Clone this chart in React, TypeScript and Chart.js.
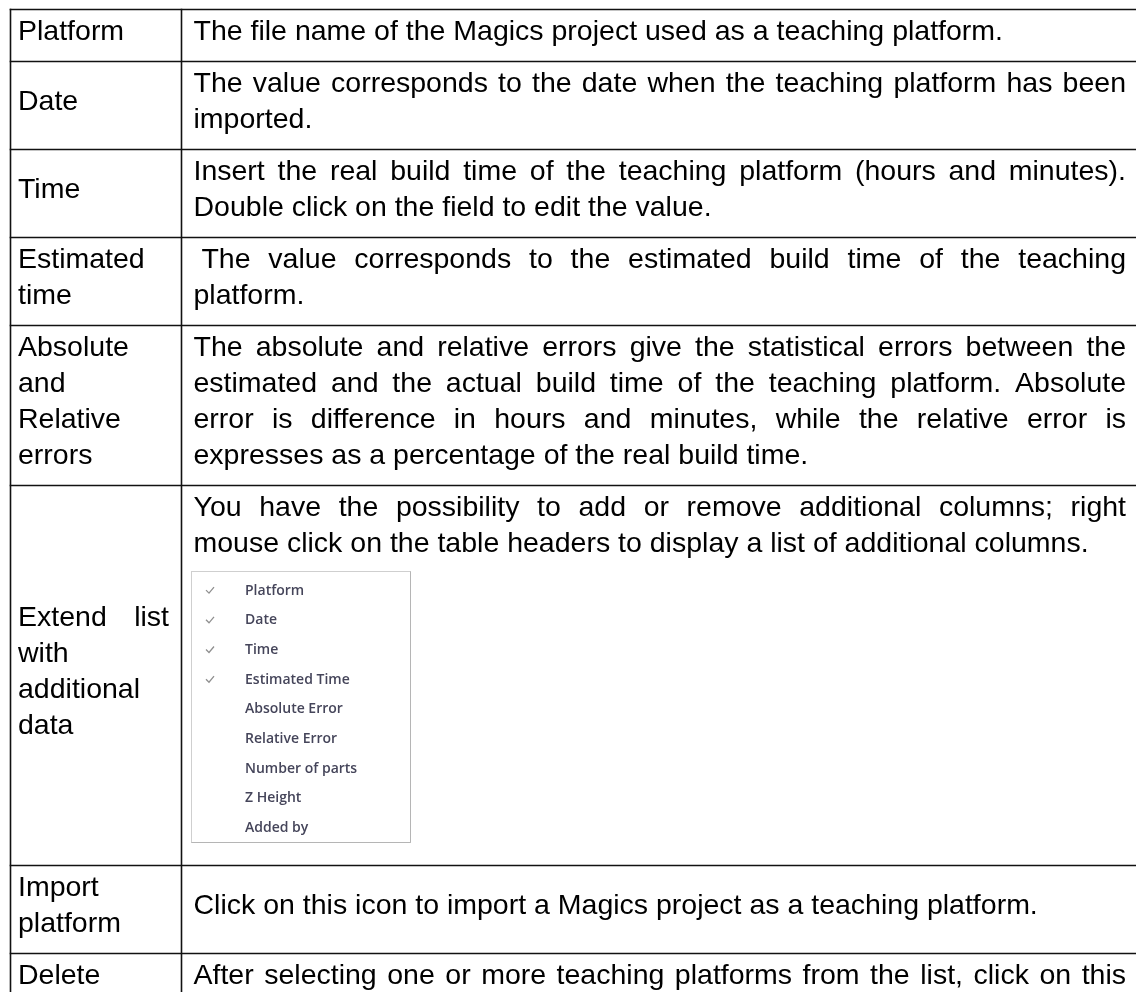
import React, { useEffect, useRef } from "react";
import { Chart, registerables } from "chart.js";

Chart.register(...registerables);

// ---------- data ----------
const ROW_LABELS: string[][] = [
  ["Platform"],
  ["Date"],
  ["Time"],
  ["Estimated", "time"],
  ["Absolute", "and", "Relative", "errors"],
  ["Extend list", "with", "additional", "data"],
  ["Import", "platform"],
  ["Delete"],
];

const ROW_DESCRIPTIONS: string[][] = [
  ["The file name of the Magics project used as a teaching platform."],
  [
    "The value corresponds to the date when the teaching platform has been",
    "imported.",
  ],
  [
    "Insert the real build time of the teaching platform (hours and minutes).",
    "Double click on the field to edit the value.",
  ],
  [
    " The value corresponds to the estimated build time of the teaching",
    "platform.",
  ],
  [
    "The absolute and relative errors give the statistical errors between the",
    "estimated and the actual build time of the teaching platform. Absolute",
    "error is difference in hours and minutes, while the relative error is",
    "expresses as a percentage of the real build time.",
  ],
  [
    "You have the possibility to add or remove additional columns; right",
    "mouse click on the table headers to display a list of additional columns.",
  ],
  ["Click on this icon to import a Magics project as a teaching platform."],
  ["After selecting one or more teaching platforms from the list, click on this"],
];

const MENU_ITEMS: string[] = [
  "Platform",
  "Date",
  "Time",
  "Estimated Time",
  "Absolute Error",
  "Relative Error",
  "Number of parts",
  "Z Height",
  "Added by",
];
const MENU_CHECKED: boolean[] = [true, true, true, true, false, false, false, false, false];

const MENU_ROW = 5; // row that holds the column menu picture
const OPEN_ENDED_ROW = 7; // row whose paragraph continues past the bottom edge

// ---------- layout / style ----------
const W = 1136;
const H = 992;
const LAYOUT = {
  tableTop: 9.5,
  leftBorder: 10.5,
  divider: 181.5,
  lineH: 36,
  padTop: 2,
  padBottom: 14,
  baselineOffset: 28.3,
  labelX0: 18,
  labelX1: 169,
  descX0: 193.5,
  descX1: 1126,
  menuGapTop: 12,
  menuBlock: 292,
  menuX: 191.5,
  menuW: 219,
  menuH: 271,
  menuFirst: 18.6,
  menuPitch: 29.7,
  checkDX: 18.5,
  textDX: 53.5,
};
const FONT = '28.5px "Liberation Sans", Arial, sans-serif';
const MENU_FONT = '600 14px "Open Sans", "Noto Sans", sans-serif';

function drawTextLine(
  ctx: CanvasRenderingContext2D,
  text: string,
  x0: number,
  x1: number,
  y: number,
  justify: boolean
) {
  if (!justify) {
    ctx.fillText(text, x0, y);
    return;
  }
  let lead = 0;
  let t = text;
  while (t.startsWith(" ")) {
    lead += ctx.measureText(" ").width;
    t = t.slice(1);
  }
  const words = t.split(" ");
  if (words.length < 2) {
    ctx.fillText(text, x0, y);
    return;
  }
  const ww = words.map((w) => ctx.measureText(w).width);
  const total = ww.reduce((a, b) => a + b, 0);
  const gap = (x1 - x0 - lead - total) / (words.length - 1);
  let x = x0 + lead;
  words.forEach((w, i) => {
    ctx.fillText(w, x, y);
    x += ww[i] + gap;
  });
}

const tablePlugin = {
  id: "tableDraw",
  beforeDraw(chart: any) {
    const ctx: CanvasRenderingContext2D = chart.ctx;
    ctx.save();
    ctx.fillStyle = "#ffffff";
    ctx.fillRect(0, 0, chart.width, chart.height);
    ctx.restore();
  },
  afterDraw(chart: any) {
    const ctx: CanvasRenderingContext2D = chart.ctx;
    const xs = chart.scales.x;
    const ys = chart.scales.y;
    const X = (v: number) => xs.getPixelForValue(v);
    const Y = (v: number) => ys.getPixelForValue(v);
    const L = LAYOUT;

    ctx.save();
    ctx.textBaseline = "alphabetic";
    ctx.textAlign = "left";

    const rowLines: number[] = [L.tableTop];
    let top = L.tableTop;

    ROW_LABELS.forEach((label, i) => {
      const desc = ROW_DESCRIPTIONS[i];
      const extra = i === MENU_ROW ? L.menuBlock : 0;
      const rightH = desc.length * L.lineH + extra;
      const leftH = label.length * L.lineH;
      const contentH = Math.max(rightH, leftH);
      const contentTop = top + L.padTop;

      ctx.fillStyle = "#000000";
      ctx.font = FONT;

      // left label (vertically centred)
      const lOff = (contentH - leftH) / 2;
      label.forEach((line, j) => {
        const justify = j < label.length - 1;
        drawTextLine(
          ctx,
          line,
          X(L.labelX0),
          X(L.labelX1),
          Y(contentTop + lOff + j * L.lineH + L.baselineOffset),
          justify
        );
      });

      // right description
      const rOff = (contentH - rightH) / 2;
      desc.forEach((line, j) => {
        const justify = j < desc.length - 1 || i === OPEN_ENDED_ROW;
        drawTextLine(
          ctx,
          line,
          X(L.descX0),
          X(L.descX1),
          Y(contentTop + rOff + j * L.lineH + L.baselineOffset),
          justify
        );
      });

      // menu picture
      if (i === MENU_ROW) {
        const mTop = contentTop + rOff + desc.length * L.lineH + L.menuGapTop;
        const mx = X(L.menuX);
        const my = Y(mTop);
        ctx.fillStyle = "#ffffff";
        ctx.fillRect(mx, my, L.menuW, L.menuH);
        ctx.strokeStyle = "#cfcfcf";
        ctx.lineWidth = 1;
        ctx.strokeRect(mx, my, L.menuW, L.menuH);
        ctx.strokeStyle = "#b5b5b5";
        ctx.beginPath();
        ctx.moveTo(mx + L.menuW, my);
        ctx.lineTo(mx + L.menuW, my + L.menuH);
        ctx.lineTo(mx, my + L.menuH);
        ctx.stroke();

        ctx.font = MENU_FONT;
        ctx.textBaseline = "middle";
        MENU_ITEMS.forEach((item, k) => {
          const cy = Y(mTop + L.menuFirst + k * L.menuPitch);
          if (MENU_CHECKED[k]) {
            const cx = X(L.menuX + L.checkDX);
            ctx.strokeStyle = "#8f8f8f";
            ctx.lineWidth = 1.3;
            ctx.beginPath();
            ctx.moveTo(cx - 4, cy);
            ctx.lineTo(cx - 1, cy + 3);
            ctx.lineTo(cx + 4, cy - 3);
            ctx.stroke();
          }
          ctx.fillStyle = "#45455a";
          ctx.fillText(item, X(L.menuX + L.textDX), cy + 0.5);
        });
        ctx.textBaseline = "alphabetic";
      }

      top += contentH + L.padTop + L.padBottom;
      rowLines.push(top);
    });

    // grid lines
    ctx.strokeStyle = "#111111";
    ctx.lineWidth = 1.6;
    rowLines.forEach((ry) => {
      if (ry > H) return;
      ctx.beginPath();
      ctx.moveTo(X(L.leftBorder - 0.8), Y(ry));
      ctx.lineTo(X(W), Y(ry));
      ctx.stroke();
    });
    [L.leftBorder, L.divider].forEach((vx) => {
      ctx.beginPath();
      ctx.moveTo(X(vx), Y(L.tableTop - 0.8));
      ctx.lineTo(X(vx), Y(H));
      ctx.stroke();
    });

    ctx.restore();
  },
};

export default function App() {
  const canvasRef = useRef<HTMLCanvasElement | null>(null);

  useEffect(() => {
    const canvas = canvasRef.current;
    if (!canvas) return;
    const chart = new Chart(canvas, {
      type: "scatter",
      data: { datasets: [] },
      options: {
        responsive: false,
        maintainAspectRatio: false,
        animation: false,
        devicePixelRatio: 1,
        layout: { padding: 0 },
        plugins: {
          legend: { display: false },
          tooltip: { enabled: false },
          title: { display: false },
        },
        scales: {
          x: { type: "linear", min: 0, max: W, display: false },
          y: { type: "linear", min: 0, max: H, reverse: true, display: false },
        },
      },
      plugins: [tablePlugin],
    });
    return () => chart.destroy();
  }, []);

  return (
    <div style={{ position: "absolute", left: 0, top: 0, width: W, height: H, background: "#fff" }}>
      <canvas ref={canvasRef} width={W} height={H} style={{ display: "block" }} />
    </div>
  );
}
